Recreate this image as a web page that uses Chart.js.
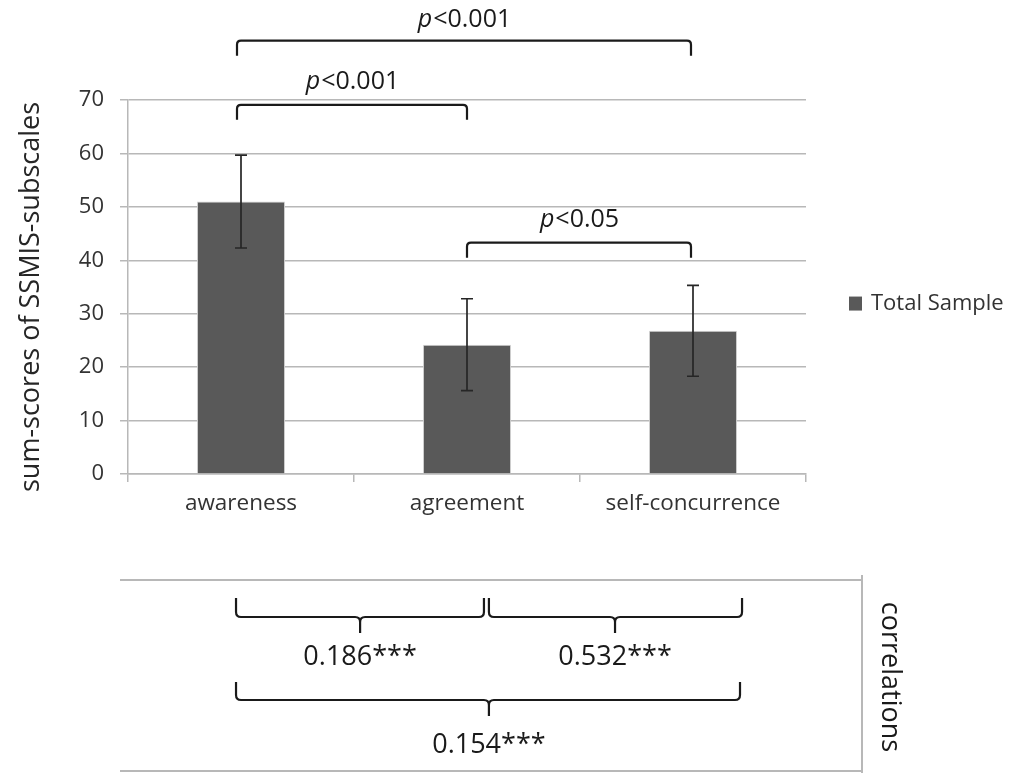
<!DOCTYPE html>
<html>
<head>
<meta charset="utf-8">
<script src="https://cdn.jsdelivr.net/npm/chart.js@4.4.1/dist/chart.umd.min.js"></script>
<style>
  html, body { margin: 0; padding: 0; background: #ffffff; }
  #wrap { width: 1009px; height: 773px; position: relative; }
</style>
</head>
<body>
<div id="wrap"><canvas id="c" width="1009" height="773"></canvas></div>
<script>
// ---- data ----
const categories = ['awareness', 'agreement', 'self-concurrence'];
const seriesLabel = 'Total Sample';
const means = [51.0, 24.2, 26.8];
const errors = [8.7, 8.6, 8.5];
const yTicksMin = 0, yTicksMax = 70, yTickStep = 10;
const yTitle = 'sum-scores of SSMIS-subscales';
// significance brackets: from category, to category, label (italic part + rest)
const sigFrom = [0, 0, 1];
const sigTo = [2, 1, 2];
const sigItalic = ['p', 'p', 'p'];
const sigText = ['<0.001', '<0.001', '<0.05'];
// correlations
const corrLabels = ['0.186***', '0.532***', '0.154***'];
const corrTitle = 'correlations';

const FONT = "'Open Sans', 'Noto Sans', sans-serif";
const BAR = '#595959';
const TXT = '#333333';
const GRID = '#b8b8b8';

const annot = {
  id: 'annot',
  afterDatasetsDraw(chart) {
    const ctx = chart.ctx;
    const y = chart.scales.y;
    const meta = chart.getDatasetMeta(0);
    ctx.save();
    ctx.strokeStyle = '#262626';
    ctx.lineWidth = 1.7;
    meta.data.forEach((bar, i) => {
      const cx = bar.x;
      const yt = y.getPixelForValue(means[i] + errors[i]);
      const yb = y.getPixelForValue(means[i] - errors[i]);
      ctx.beginPath();
      ctx.moveTo(cx, yt); ctx.lineTo(cx, yb);
      ctx.moveTo(cx - 6, yt); ctx.lineTo(cx + 6, yt);
      ctx.moveTo(cx - 6, yb); ctx.lineTo(cx + 6, yb);
      ctx.stroke();
    });
    ctx.restore();
  },
  afterDraw(chart) {
    const ctx = chart.ctx;
    const x = chart.scales.x, y = chart.scales.y;
    const area = chart.chartArea;
    ctx.save();

    // y title
    ctx.fillStyle = '#262626';
    ctx.font = '27px ' + FONT;
    ctx.textAlign = 'center';
    ctx.textBaseline = 'middle';
    ctx.save();
    ctx.translate(31, (area.top + area.bottom) / 2 + 10);
    ctx.rotate(-Math.PI / 2);
    ctx.fillText(yTitle, 0, 0);
    ctx.restore();

    // legend
    const lgY = y.getPixelForValue(31.9);
    ctx.fillStyle = BAR;
    ctx.fillRect(area.right + 43, lgY - 7, 13, 14);
    ctx.fillStyle = TXT;
    ctx.font = '22px ' + FONT;
    ctx.textAlign = 'left';
    ctx.fillText(seriesLabel, area.right + 65, lgY);

    // significance brackets
    const bracketY = [81.1, 69.1, 43.3];
    const labelY = [85.0, 73.4, 47.6];
    ctx.strokeStyle = '#1a1a1a';
    ctx.lineWidth = 2.2;
    for (let k = 0; k < sigFrom.length; k++) {
      const x0 = x.getPixelForValue(sigFrom[k]) - (sigFrom[k] === 0 ? 4 : 0);
      const x1 = x.getPixelForValue(sigTo[k]) - (sigTo[k] === 2 ? 2 : 0);
      const by = y.getPixelForValue(bracketY[k]);
      const r = 4;
      ctx.beginPath();
      ctx.moveTo(x0, by + 15);
      ctx.lineTo(x0, by + r);
      ctx.quadraticCurveTo(x0, by, x0 + r, by);
      ctx.lineTo(x1 - r, by);
      ctx.quadraticCurveTo(x1, by, x1, by + r);
      ctx.lineTo(x1, by + 15);
      ctx.stroke();
      const ly = y.getPixelForValue(labelY[k]);
      ctx.font = 'italic 25px ' + FONT;
      const wI = ctx.measureText(sigItalic[k]).width;
      ctx.font = '25px ' + FONT;
      const wT = ctx.measureText(sigText[k]).width;
      const cx = (x0 + x1) / 2;
      const sx = cx - (wI + wT) / 2;
      ctx.fillStyle = '#1a1a1a';
      ctx.textAlign = 'left';
      ctx.textBaseline = 'middle';
      ctx.font = 'italic 25px ' + FONT;
      ctx.fillText(sigItalic[k], sx, ly);
      ctx.font = '25px ' + FONT;
      ctx.fillText(sigText[k], sx + wI + 1, ly);
    }

    // correlation section frame
    const top = 580, bottom = 771, frameL = area.left - 8, frameR = area.right + 56;
    ctx.strokeStyle = GRID;
    ctx.lineWidth = 2;
    ctx.beginPath();
    ctx.moveTo(frameL, top); ctx.lineTo(frameR, top);
    ctx.moveTo(frameL, bottom); ctx.lineTo(frameR, bottom);
    ctx.moveTo(frameR, top - 5); ctx.lineTo(frameR, 773);
    ctx.stroke();

    // braces
    const braceFrom = [-0.022, 1.097, -0.022];
    const braceTo = [1.075, 2.217, 2.208];
    const braceMid = [0.527, 1.655, 1.097];
    const braceTop = [598, 598, 682];
    const braceH = [617, 617, 700];
    const corrY = [657, 657, 745];
    ctx.strokeStyle = '#1a1a1a';
    ctx.lineWidth = 2.2;
    for (let k = 0; k < 3; k++) {
      const x0 = x.getPixelForValue(braceFrom[k]);
      const x1 = x.getPixelForValue(braceTo[k]);
      const xc = x.getPixelForValue(braceMid[k]);
      const t = braceTop[k], h = braceH[k], r = 5;
      ctx.beginPath();
      ctx.moveTo(x0, t);
      ctx.lineTo(x0, h - r);
      ctx.quadraticCurveTo(x0, h, x0 + r, h);
      ctx.lineTo(xc - r, h);
      ctx.quadraticCurveTo(xc, h, xc, h + r);
      ctx.lineTo(xc, h + 16);
      ctx.moveTo(xc, h + r);
      ctx.quadraticCurveTo(xc, h, xc + r, h);
      ctx.lineTo(x1 - r, h);
      ctx.quadraticCurveTo(x1, h, x1, h - r);
      ctx.lineTo(x1, t);
      ctx.stroke();
      ctx.fillStyle = '#1a1a1a';
      ctx.font = '27px ' + FONT;
      ctx.textAlign = 'center';
      ctx.textBaseline = 'middle';
      ctx.fillText(corrLabels[k], xc, corrY[k]);
    }

    // correlations vertical title
    ctx.save();
    ctx.translate(frameR + 28, 677);
    ctx.rotate(Math.PI / 2);
    ctx.fillStyle = '#1a1a1a';
    ctx.font = '27px ' + FONT;
    ctx.textAlign = 'center';
    ctx.textBaseline = 'middle';
    ctx.fillText(corrTitle, 0, 0);
    ctx.restore();

    ctx.restore();
  }
};

new Chart(document.getElementById('c'), {
  type: 'bar',
  data: {
    labels: categories,
    datasets: [{
      label: seriesLabel,
      data: means,
      backgroundColor: BAR,
      borderColor: '#d4d4d4',
      borderWidth: 1,
      categoryPercentage: 1.0,
      barPercentage: 0.39
    }]
  },
  options: {
    responsive: false,
    animation: false,
    devicePixelRatio: 1,
    layout: { padding: { left: 50, right: 203, top: 100, bottom: 249 } },
    plugins: { legend: { display: false }, tooltip: { enabled: false } },
    scales: {
      x: {
        offset: true,
        grid: { display: true, drawOnChartArea: false, color: GRID, lineWidth: 1.5, tickLength: 8 },
        border: { display: true, color: GRID, width: 1.5 },
        ticks: { color: TXT, font: { family: FONT, size: 22.5 }, padding: 8 },
        afterFit(scale) { scale.height = 50; }
      },
      y: {
        min: yTicksMin, max: yTicksMax,
        grid: { color: GRID, lineWidth: 1.5, tickLength: 8 },
        border: { display: true, color: GRID, width: 1.5 },
        ticks: { stepSize: yTickStep, color: TXT, font: { family: FONT, size: 22 }, padding: 16 },
        afterFit(scale) { scale.width = 78; }
      }
    }
  },
  plugins: [annot]
});
</script>
</body>
</html>
